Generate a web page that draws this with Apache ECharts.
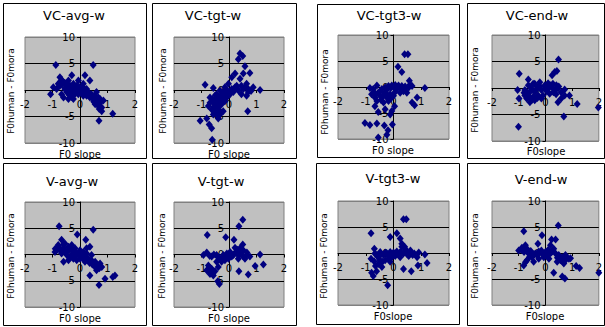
<!DOCTYPE html>
<html>
<head>
<meta charset="utf-8">
<script src="https://cdn.jsdelivr.net/npm/echarts@6/dist/echarts.min.js"></script>
<style>
  html, body { margin: 0; padding: 0; background: #fff; }
  #chart { width: 605px; height: 327px; }
</style>
</head>
<body>
<div id="chart"></div>
<script>
// 軸目盛
const xTicks = [-2, -1, 0, 1, 2]
const yTicks = [-10, -5, 0, 5, 10]

// パネル名と軸ラベル
const panelTitles = ['VC-avg-w', 'VC-tgt-w', 'VC-tgt3-w', 'VC-end-w', 'V-avg-w', 'V-tgt-w', 'V-tgt3-w', 'V-end-w']
const xAxisNames = ['F0 slope', 'F0 slope', 'F0 slope', 'F0slope', 'F0 slope', 'F0 slope', 'F0slope', 'F0slope']
const yAxisName = 'F0human - F0mora'

// 各パネルの点 [F0 slope, F0human - F0mora]
const vcAvgW = [
  [-0.88, 4.7], [0.48, 4.7], [-0.3, 2.8], [0.18, 2.8], [0.36, 1.8], [-1.07, -0.8], [0.79, -4.0], [1.19, -4.5], [0.69, -5.8],
  [-0.73, 2.4], [-0.67, 1.9], [-0.6, 1.5], [-0.79, 1.2], [-0.48, 1.2], [-0.36, 0.8], [-0.24, 1.2], [-0.12, 0.8], [-0.02, 0.5],
  [0.06, 0.2], [0.18, -0.1], [0.3, -0.4], [0.42, -0.8], [0.55, -1.1], [0.67, -1.4], [0.73, -1.7], [0.6, -2.0], [0.73, -2.4],
  [0.55, -2.7], [0.67, -3.0], [0.79, -3.3], [-0.6, -1.4], [-0.42, -1.7], [-0.24, -1.1], [-0.67, -0.8], [-0.85, 0.2], [-0.97, 0.5],
  [-0.55, 0.2], [-0.36, -0.4], [-0.18, -0.1], [-0.06, -0.8], [0.12, -1.1], [0.24, 0.2], [0.36, -1.4], [0.48, -1.7], [0.12, 1.2],
  [-0.06, 1.8], [-0.42, 1.8], [-0.73, 0.8], [-0.48, -0.4], [-0.24, -1.7], [0.24, -1.1], [0.85, -2.0], [0.6, -0.4],
  [-0.3, 0.3], [-0.15, -0.5], [0.0, -0.3], [0.1, 0.6], [-0.5, 0.9], [-0.2, 0.0],
  [-0.65, 1.0], [-0.55, 1.3], [-0.45, 0.5], [-0.35, 0.2], [-0.25, 0.4], [-0.1, 0.2], [0.0, 0.1], [0.05, -0.5], [0.15, -0.6],
  [0.25, -0.7], [0.35, -0.9], [0.45, -1.2], [0.5, -2.2], [0.62, -2.6], [-0.7, 1.6], [-0.4, -0.9], [-0.3, -1.3], [0.7, -3.6]
]
const vcTgtW = [
  [0.4, 6.9], [0.5, 6.4], [0.34, 5.8], [0.58, 4.5], [0.76, 3.2], [0.22, 3.1], [0.52, 3.1], [0.1, 2.4], [0.4, 2.1], [0.64, 1.2],
  [0.45, 0.8], [0.28, 0.8], [1.13, 0.0], [0.64, -1.1], [0.45, -0.8], [-0.87, 1.0], [-0.57, 0.4], [0.68, -4.0], [-1.05, -5.8],
  [-0.81, -5.4], [-0.72, -6.5], [-0.63, -7.2], [-0.61, -9.4], [-0.39, -5.4], [-0.33, -4.6], [-0.21, -4.0],
  [-0.69, -1.4], [-0.57, -2.1], [-0.45, -0.8], [-0.33, -1.4], [-0.21, -0.4], [-0.08, -0.1], [-0.02, -0.8], [0.1, 0.2], [0.22, 0.5],
  [-0.51, -2.7], [-0.39, -3.3], [-0.63, -3.7], [-0.27, -2.7], [-0.15, -2.1], [-0.33, -2.1], [-0.45, -4.6], [-0.57, -4.6],
  [-0.75, -3.0], [-0.21, -1.1], [-0.08, -1.4], [0.04, -0.8], [0.16, -0.4], [0.34, -0.1], [0.52, 0.2], [0.7, 0.2], [0.88, 0.5],
  [0.7, -0.4], [-0.02, 1.2], [-0.15, 0.5], [-0.69, -2.4], [-0.33, -0.1], [-0.45, -1.7],
  [-0.5, -1.0], [-0.4, -1.9], [-0.3, -2.4], [-0.2, -1.6], [-0.1, -0.9], [-0.55, -3.2], [-0.45, -2.9], [-0.35, -3.8],
  [-0.6, -1.8], [-0.25, -0.9], [0.0, -0.3], [0.3, 0.3], [0.6, 0.6], [0.8, -0.2], [-0.5, -4.0]
]
const vcTgt3W = [
  [0.4, 6.3], [0.52, 6.3], [0.16, 3.9], [0.3, 2.9], [0.57, 1.2], [1.13, -0.2], [0.85, -2.0], [0.67, -3.0], [0.76, -3.5],
  [-1.03, -6.9], [-0.85, -7.3], [-0.6, -7.0], [-0.33, -7.4], [-0.2, -8.3], [-0.24, -9.2], [-0.55, -9.7], [-0.04, -7.2],
  [-0.12, -5.3], [-0.06, -4.6], [0.04, -3.7], [-0.3, -4.3], [-0.55, -4.8], [-0.67, -3.7], [-0.85, -0.2], [-0.6, 0.3],
  [-0.79, -1.4], [-0.67, -2.0], [-0.55, -1.1], [-0.42, -0.4], [-0.3, -0.1], [-0.18, 0.2], [-0.06, 0.3], [0.06, 0.4], [0.18, 0.3],
  [0.3, 0.2], [0.42, 0.1], [0.55, -0.1], [0.67, 0.2], [-0.3, -1.1], [-0.42, -2.0], [-0.6, -2.7], [-0.24, -2.0], [-0.12, -1.4],
  [-0.18, -2.7], [0.0, -1.7], [0.24, -1.1], [0.36, -0.8], [0.48, -1.1], [-0.36, -3.0], [-0.48, -0.8], [-0.73, -0.4], [0.12, -0.4],
  [0.6, 0.5],
  [-0.7, -1.0], [-0.5, -1.6], [-0.35, -1.5], [-0.25, -0.6], [-0.1, -0.2], [0.0, 0.0], [0.1, 0.0], [0.25, -0.3], [-0.65, -1.5],
  [-0.45, -2.5], [-0.2, -1.7], [-0.1, -2.2], [0.05, -1.0], [0.4, -0.4]
]
const vcEndW = [
  [0.49, 5.4], [0.35, 3.0], [0.43, 3.2], [0.25, 2.4], [-0.98, 2.7], [-0.64, 1.6], [-0.4, 0.8], [-1.04, -0.4], [-0.99, -2.0],
  [-1.01, -7.3], [0.69, -5.4], [1.19, -3.0], [1.98, -3.7], [0.72, -0.3], [0.9, -1.4], [0.59, -2.0], [0.47, -2.7],
  [-0.77, -0.4], [-0.64, -1.1], [-0.52, -0.1], [-0.4, -0.8], [-0.27, 0.2], [-0.15, -0.4], [-0.02, 0.5], [0.1, -0.1], [0.22, 0.2],
  [0.35, -0.4], [0.47, -0.1], [0.59, -0.8], [-0.7, -2.0], [-0.58, -2.7], [-0.46, -1.7], [-0.27, -1.4], [-0.09, -1.4],
  [-0.64, 0.5], [-0.46, 0.8], [-0.21, 1.1], [0.1, 0.9], [0.28, 0.8], [0.41, 0.5], [-0.77, -1.4], [-0.4, -2.3], [-0.15, -2.0],
  [0.16, -1.1], [0.72, -1.4],
  [-0.7, -0.8], [-0.55, -0.5], [-0.35, -0.3], [-0.2, 0.3], [0.0, 0.0], [0.05, -0.6], [0.3, -0.8], [-0.6, -1.6], [-0.5, -2.2],
  [-0.3, -1.9], [0.4, -1.2], [0.2, 0.5], [-0.8, -0.9], [0.5, 0.3]
]
const vAvgW = [
  [-0.76, 5.4], [-0.1, 3.8], [0.48, 4.7], [0.21, 2.8], [0.36, 1.5], [-0.67, 2.8], [-0.6, 1.9], [-0.79, 1.8], [-0.91, 0.5],
  [-0.6, -1.4], [0.69, -5.8], [0.91, -4.6], [1.19, -4.3], [1.27, -4.0], [0.36, -4.0], [0.6, -3.0], [0.73, -1.7], [0.79, -2.4],
  [-0.73, 1.2], [-0.55, 0.8], [-0.42, 1.5], [-0.3, 0.8], [-0.18, 0.5], [-0.06, 0.2], [0.06, -0.1], [0.18, -0.4], [0.3, -0.8],
  [0.42, -1.1], [0.55, -1.4], [0.67, -2.1], [0.55, -2.4], [-0.48, -0.1], [-0.36, -0.4], [-0.24, -0.8], [-0.12, -1.1], [0.0, -0.8],
  [0.18, -1.4], [-0.85, 0.8], [-0.67, 0.2], [-0.3, 1.8], [-0.18, 1.2], [0.0, 0.8], [0.12, 0.5], [0.24, 0.2], [0.42, -0.1],
  [0.24, 1.2], [-0.42, -1.1],
  [-0.7, 0.6], [-0.6, 1.2], [-0.5, 0.4], [-0.4, 0.9], [-0.25, 0.2], [-0.15, -0.3], [0.1, -0.7], [0.25, -1.0], [0.35, -1.6],
  [0.45, -1.9], [0.6, -1.8], [0.7, -2.6], [-0.8, 1.3], [-0.9, 1.1], [-0.55, 2.1]
]
const vTgtW = [
  [0.5, 6.6], [0.36, 5.4], [-0.79, 3.7], [-0.12, 3.3], [0.18, 2.8], [0.5, 1.9], [1.13, 0.0], [1.25, -1.9], [0.95, -2.2],
  [0.7, -3.8], [0.36, -3.2], [-0.35, -5.6], [-0.41, -5.1],
  [-0.75, -2.1], [-0.63, -2.7], [-0.69, -3.7], [-0.57, -4.0], [-0.81, -3.0], [-0.51, -3.2], [-0.93, -0.1], [-0.81, 0.4],
  [-0.63, -0.4], [-0.45, -0.1], [-0.33, -0.8], [-0.21, -0.1], [-0.08, 0.2], [0.04, 0.5], [0.16, -0.1], [0.28, 0.5], [0.4, 0.2],
  [0.52, 0.8], [0.64, -0.1], [0.76, -0.4], [0.22, 1.3], [0.4, 1.2], [-0.27, -1.4], [-0.15, -1.1], [-0.02, -0.8], [0.1, -0.4],
  [0.34, -0.8], [0.58, -0.8], [-0.45, -1.4], [-0.39, -2.4],
  [-0.7, -0.3], [-0.55, 0.0], [-0.4, -0.5], [-0.25, -0.6], [-0.1, -0.3], [0.0, 0.0], [0.2, 0.2], [0.35, -0.2], [0.5, -0.3],
  [0.65, 0.4], [-0.7, -2.5], [-0.65, -3.2], [-0.6, -3.6], [-0.75, -2.9], [0.3, 0.9]
]
const vTgt3W = [
  [0.36, 6.5], [0.46, 6.5], [-0.81, 3.8], [0.12, 3.8], [-0.12, 3.1], [0.24, 2.8], [0.3, 1.8], [0.4, 1.2], [0.91, 0.1],
  [1.13, -0.3], [1.21, -1.9], [0.88, -2.4], [0.64, -3.5], [0.36, -3.1], [-0.21, -6.2], [-0.73, -4.4], [-0.61, -3.5],
  [-0.79, -3.8], [-0.81, -1.1], [-0.69, 0.8], [-0.4, -1.7], [-0.42, -2.7],
  [-0.67, -0.1], [-0.55, -0.8], [-0.48, 0.2], [-0.36, -0.4], [-0.24, -0.1], [-0.12, 0.2], [0.0, 0.1], [0.12, 0.3], [0.24, 0.2],
  [0.36, -0.1], [0.48, 0.2], [0.61, 0.5], [0.69, -0.4], [0.85, -0.8], [-0.3, -1.4], [-0.18, -1.1], [-0.06, -0.8], [0.06, -0.6],
  [0.24, -0.8], [-0.55, -2.1], [-0.12, -1.7], [0.42, 0.8], [0.55, -0.6],
  [-0.6, -0.4], [-0.45, -0.2], [-0.3, 0.1], [-0.2, -0.5], [0.0, -0.3], [0.15, -0.1], [0.3, 0.0], [0.5, -0.3], [0.6, 0.1],
  [-0.7, -1.6], [-0.5, -1.3], [0.75, -0.1], [0.3, 1.2], [-0.65, -2.5]
]
const vEndW = [
  [0.48, 5.3], [-0.81, 4.2], [-0.13, 3.4], [0.23, 2.6], [0.38, 2.6], [-0.28, 1.8], [2.0, -3.8], [1.28, -2.9], [1.15, -2.5],
  [0.73, -4.9], [0.63, -4.5], [0.31, -3.8], [0.88, -1.1], [0.94, -1.0],
  [-1.0, 0.5], [-0.88, 1.0], [-0.75, 1.5], [-0.69, 0.8], [-0.63, -0.1], [-0.69, -1.4], [-0.81, -2.4], [-0.5, -0.8], [-0.38, -0.1],
  [-0.25, 0.3], [-0.13, -0.1], [0.0, 0.2], [0.13, -0.3], [0.25, 0.3], [0.38, -0.1], [0.5, -0.4], [0.63, -0.8], [0.75, -0.4],
  [0.56, -1.4], [0.69, -2.0], [0.44, -1.7], [0.75, -1.4], [-0.44, -1.7], [-0.25, -1.1], [-0.06, -0.8], [0.13, -1.1], [0.31, 0.8],
  [0.19, 1.5],
  [-0.9, 0.6], [-0.8, 0.2], [-0.55, 0.4], [-0.45, -0.3], [-0.3, -0.5], [-0.15, 0.5], [0.05, -0.5], [0.2, 0.0], [0.45, -0.9],
  [0.55, -1.0], [0.65, -1.7], [0.8, -0.8], [-0.6, -0.8], [-0.75, -1.8], [0.1, 0.6]
]

const panelData = [vcAvgW, vcTgtW, vcTgt3W, vcEndW, vAvgW, vTgtW, vTgt3W, vEndW]

/** パネル配置: 枠 [x, y, w, h], プロット領域 [left, top, w, h], 各テキスト中心 */
const layout = [
  { box: [3, 3, 143, 155], plot: [25, 37, 110, 106], title: [74, 15], xName: [80, 154], yName: [11, 91] },
  { box: [152, 3, 144, 155], plot: [174, 37, 110, 106], title: [213, 15], xName: [229, 154], yName: [163, 91] },
  { box: [317, 4, 142, 153], plot: [338, 35, 111, 104], title: [389, 15], xName: [393, 150], yName: [325, 92] },
  { box: [467, 3, 137, 155], plot: [492, 35, 107, 106], title: [537, 15], xName: [546, 151], yName: [475, 90] },
  { box: [3, 163, 143, 162], plot: [25, 202, 110, 105], title: [72, 181], xName: [80, 318], yName: [11, 256] },
  { box: [152, 163, 144, 162], plot: [174, 202, 110, 105], title: [221, 181], xName: [229, 318], yName: [162, 256] },
  { box: [316, 163, 143, 161], plot: [338, 201, 111, 104], title: [393, 178], xName: [393, 316], yName: [324, 256] },
  { box: [467, 163, 137, 162], plot: [492, 201, 107, 104], title: [541, 179], xName: [545, 316], yName: [475, 256] }
]

const fontFamily = '"DejaVu Sans", "Liberation Sans", sans-serif'

const grids = []
const xAxes = []
const yAxes = []
const series = []
const graphics = []

layout.forEach((p, i) => {
  const [left, top, width, height] = p.plot
  const xMin = xTicks[0]
  const xMax = xTicks[xTicks.length - 1]
  const yMin = yTicks[0]
  const yMax = yTicks[yTicks.length - 1]

  grids.push({
    left, top, width, height,
    show: true,
    backgroundColor: '#c0c0c0',
    borderColor: '#808080',
    borderWidth: 1,
  })
  // 軸を原点の位置まで寄せる (ラベルも一緒に動かす)
  xAxes.push({
    type: 'value',
    gridIndex: i,
    position: 'bottom',
    offset: -height * (0 - yMin) / (yMax - yMin),
    min: xMin,
    max: xMax,
    interval: xTicks[1] - xTicks[0],
    axisLine: { onZero: false, lineStyle: { color: '#000', width: 1 } },
    axisTick: { show: true, length: 3, lineStyle: { color: '#000' } },
    axisLabel: { color: '#000', fontSize: 10, margin: 9, fontFamily },
    splitLine: { show: false },
  })
  yAxes.push({
    type: 'value',
    gridIndex: i,
    position: 'left',
    offset: -width * (0 - xMin) / (xMax - xMin),
    min: yMin,
    max: yMax,
    interval: yTicks[1] - yTicks[0],
    axisLine: { onZero: false, lineStyle: { color: '#000', width: 1 } },
    axisTick: { show: true, length: 3, lineStyle: { color: '#000' } },
    axisLabel: { color: '#000', fontSize: 10, margin: 5, fontFamily },
    splitLine: {
      show: true,
      lineStyle: { color: ['#808080', '#000', '#000', '#000', '#808080'], width: 1 },
    },
  })
  series.push({
    type: 'scatter',
    xAxisIndex: i,
    yAxisIndex: i,
    data: panelData[i],
    symbol: 'diamond',
    symbolSize: [7, 8],
    itemStyle: { color: '#000080', opacity: 1 },
    silent: true,
  })
  graphics.push(
    {
      type: 'rect',
      shape: { x: p.box[0] + 0.5, y: p.box[1] + 0.5, width: p.box[2], height: p.box[3] },
      style: { fill: 'none', stroke: '#000', lineWidth: 1 },
      silent: true,
    },
    {
      type: 'text',
      x: p.title[0], y: p.title[1],
      style: { text: panelTitles[i], fill: '#000', font: '13px ' + fontFamily, textAlign: 'center', textVerticalAlign: 'middle' },
      silent: true,
    },
    {
      type: 'text',
      x: p.xName[0], y: p.xName[1],
      style: { text: xAxisNames[i], fill: '#000', font: '10px ' + fontFamily, textAlign: 'center', textVerticalAlign: 'middle' },
      silent: true,
    },
    {
      type: 'text',
      x: p.yName[0], y: p.yName[1],
      rotation: Math.PI / 2,
      style: { text: yAxisName, fill: '#000', font: '9px ' + fontFamily, textAlign: 'center', textVerticalAlign: 'middle' },
      silent: true,
    }
  )
})

const chart = echarts.init(document.getElementById('chart'), null, { renderer: 'svg' })
chart.setOption({
  backgroundColor: '#fff',
  animation: false,
  grid: grids,
  xAxis: xAxes,
  yAxis: yAxes,
  series: series,
  graphic: graphics,
})
</script>
</body>
</html>
